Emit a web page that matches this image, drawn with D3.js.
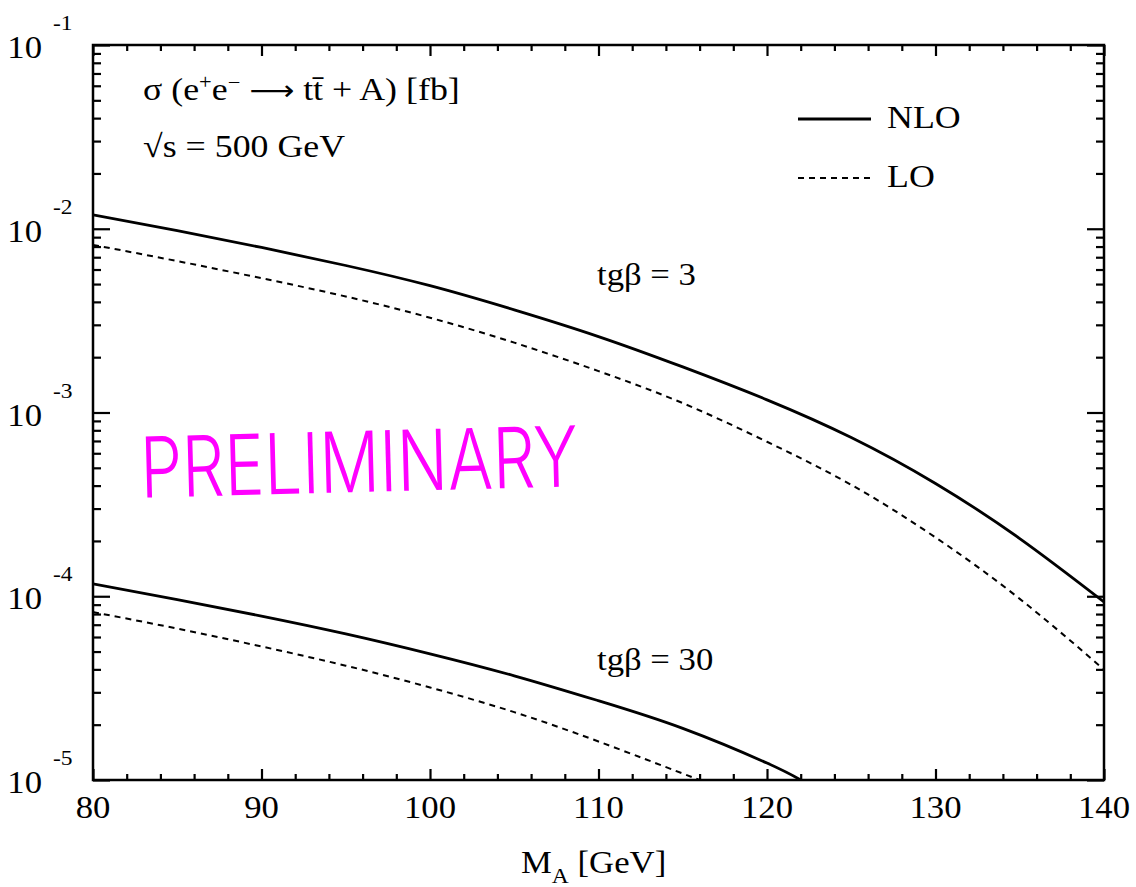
<!DOCTYPE html>
<html>
<head>
<meta charset="utf-8">
<script src="https://cdn.jsdelivr.net/npm/d3@7"></script>
<style>
  body { margin: 0; background: #fff; }
  text { font-family: "Liberation Serif", "DejaVu Serif", serif; fill: #000; }
</style>
</head>
<body>
<svg id="chart" width="1136" height="887"></svg>
<script>
// M_A grid [GeV]
var massA = [80, 85, 90, 95, 100, 105, 110, 115, 120, 125, 130, 135, 140];
// sigma [fb], tg beta = 3
var nlo3 = [1.189e-2, 9.77e-3, 7.91e-3, 6.31e-3, 4.90e-3, 3.62e-3, 2.59e-3, 1.77e-3, 1.172e-3, 7.31e-4, 4.11e-4, 2.06e-4, 9.31e-5];
var lo3  = [8.17e-3, 6.67e-3, 5.38e-3, 4.28e-3, 3.28e-3, 2.40e-3, 1.68e-3, 1.125e-3, 6.93e-4, 4.04e-4, 2.09e-4, 9.68e-5, 3.99e-5];
// tg beta = 30 (runs off the bottom of the frame)
var massA30nlo = [80, 85, 90, 95, 100, 105, 110, 115, 120, 122];
var nlo30 = [1.167e-4, 9.59e-5, 7.80e-5, 6.24e-5, 4.86e-5, 3.69e-5, 2.70e-5, 1.91e-5, 1.236e-5, 1.0e-5];
var massA30lo = [80, 85, 90, 95, 100, 105, 110, 115, 116];
var lo30 = [8.20e-5, 6.67e-5, 5.33e-5, 4.19e-5, 3.19e-5, 2.34e-5, 1.62e-5, 1.084e-5, 1.0e-5];

var xTicks = [80, 90, 100, 110, 120, 130, 140];
var yDecades = [1e-5, 1e-4, 1e-3, 1e-2, 1e-1];

var svg = d3.select("#chart");
// NB: "top" is taken by window.top, so use pl/pr/pt/pb
var pl = 93, pr = 1104, pt = 45, pb = 780;

var x = d3.scaleLinear().domain([80, 140]).range([pl, pr]);
var y = d3.scaleLog().domain([1e-5, 1e-1]).range([pb, pt]);

svg.append("clipPath").attr("id", "plotclip")
  .append("rect").attr("x", pl).attr("y", pt).attr("width", pr - pl).attr("height", pb - pt);

// minor y ticks: 2..9 x decade
var yMinor = [];
yDecades.slice(0, 4).forEach(function (d) {
  for (var k = 2; k <= 9; k++) yMinor.push(d * k);
});
var xMinor = d3.range(80, 141, 2).filter(function (v) { return v % 10 != 0; });

function noDomain(g) { g.select(".domain").remove(); g.selectAll("text").remove(); }

// inward ticks on all four sides
svg.append("g").attr("transform", "translate(0," + pb + ")")
  .call(d3.axisBottom(x).tickValues(xTicks).tickSize(-11)).call(noDomain);
svg.append("g").attr("transform", "translate(0," + pb + ")")
  .call(d3.axisBottom(x).tickValues(xMinor).tickSize(-6)).call(noDomain);
svg.append("g").attr("transform", "translate(0," + pt + ")")
  .call(d3.axisTop(x).tickValues(xTicks).tickSize(-11)).call(noDomain);
svg.append("g").attr("transform", "translate(0," + pt + ")")
  .call(d3.axisTop(x).tickValues(xMinor).tickSize(-6)).call(noDomain);
svg.append("g").attr("transform", "translate(" + pl + ",0)")
  .call(d3.axisLeft(y).tickValues(yDecades).tickSize(-17)).call(noDomain);
svg.append("g").attr("transform", "translate(" + pl + ",0)")
  .call(d3.axisLeft(y).tickValues(yMinor).tickSize(-8)).call(noDomain);
svg.append("g").attr("transform", "translate(" + pr + ",0)")
  .call(d3.axisRight(y).tickValues(yDecades).tickSize(-17)).call(noDomain);
svg.append("g").attr("transform", "translate(" + pr + ",0)")
  .call(d3.axisRight(y).tickValues(yMinor).tickSize(-8)).call(noDomain);
svg.selectAll(".tick line").attr("stroke", "#000").attr("stroke-width", 2.2);

// frame
svg.append("rect").attr("x", pl).attr("y", pt).attr("width", pr - pl).attr("height", pb - pt)
  .attr("fill", "none").attr("stroke", "#000").attr("stroke-width", 2.5);

// the scanned fonts are a bit wider than Liberation Serif: stretch horizontally
var SX = 1.12;
function label(px, py, size, anchor) {
  return svg.append("text")
    .attr("transform", "translate(" + px + "," + py + ") scale(" + SX + ",1)")
    .attr("text-anchor", anchor || "start")
    .style("font-size", size + "px");
}

// x tick labels
xTicks.forEach(function (d) {
  label(x(d), 818, 31, "middle").text(d);
});

// y tick labels 10^n
yDecades.forEach(function (d) {
  label(42, y(d) + 13, 31, "end").text("10");
  label(53, y(d) - 15, 21).text("-" + Math.round(-Math.log10(d)));
});

// x axis title
var xt = label(521, 873, 31);
xt.append("tspan").text("M");
xt.append("tspan").attr("dy", 10).style("font-size", "21px").text("A");
xt.append("tspan").attr("dy", -10).text(" [GeV]");

// curves
var line = d3.line()
  .x(function (d) { return x(d[0]); })
  .y(function (d) { return y(d[1]); })
  .curve(d3.curveNatural);

var curves = [
  { xs: massA, ys: nlo3, dash: null },
  { xs: massA, ys: lo3, dash: "6,5" },
  { xs: massA30nlo, ys: nlo30, dash: null },
  { xs: massA30lo, ys: lo30, dash: "6,5" }
];
var plot = svg.append("g").attr("clip-path", "url(#plotclip)");
plot.selectAll("path.curve").data(curves).enter().append("path")
  .attr("class", "curve")
  .attr("d", function (c) { return line(d3.zip(c.xs, c.ys)); })
  .attr("fill", "none")
  .attr("stroke", "#000")
  .attr("stroke-width", function (c) { return c.dash ? 2 : 2.8; })
  .attr("stroke-dasharray", function (c) { return c.dash; });

// process label
var t1 = label(143, 100, 32);
t1.append("tspan").text("\u03c3 (e");
t1.append("tspan").attr("dy", -11).style("font-size", "20px").text("+");
t1.append("tspan").attr("dy", 11).text("e");
t1.append("tspan").attr("dy", -11).style("font-size", "20px").text("\u2212");
t1.append("tspan").attr("dy", 11).text(" ");
t1.append("tspan").style("font-family", "'DejaVu Sans', sans-serif").style("font-size", "28px").text("\u27f6");
t1.append("tspan").text(" t");
t1.append("tspan").text("t\u0304");
t1.append("tspan").text(" + A) [fb]");
label(143, 157, 32).text("\u221as = 500 GeV");

// legend
var legend = [{ name: "NLO", dash: null, y: 119 }, { name: "LO", dash: "6,5", y: 178 }];
var lg = svg.selectAll("g.leg").data(legend).enter().append("g").attr("class", "leg");
lg.append("line")
  .attr("x1", 798).attr("x2", 871)
  .attr("y1", function (d) { return d.y; }).attr("y2", function (d) { return d.y; })
  .attr("stroke", "#000")
  .attr("stroke-width", function (d) { return d.dash ? 2 : 2.8; })
  .attr("stroke-dasharray", function (d) { return d.dash; });
legend.forEach(function (d) {
  label(887, d.y + 9, 32).text(d.name);
});

// tg beta labels
label(597, 285, 31).text("tg\u03b2 = 3");
label(597, 670, 31).text("tg\u03b2 = 30");

// handwritten stamp
svg.append("text")
  .attr("x", 140).attr("y", 492)
  .attr("textLength", 438).attr("lengthAdjust", "spacingAndGlyphs")
  .attr("transform", "rotate(-1.5,360,460)")
  .style("font-family", "Inter, 'Open Sans', sans-serif")
  .style("font-weight", "300")
  .style("font-size", "84px")
  .style("fill", "#f0f")
  .text("PRELIMINARY");
</script>
</body>
</html>
